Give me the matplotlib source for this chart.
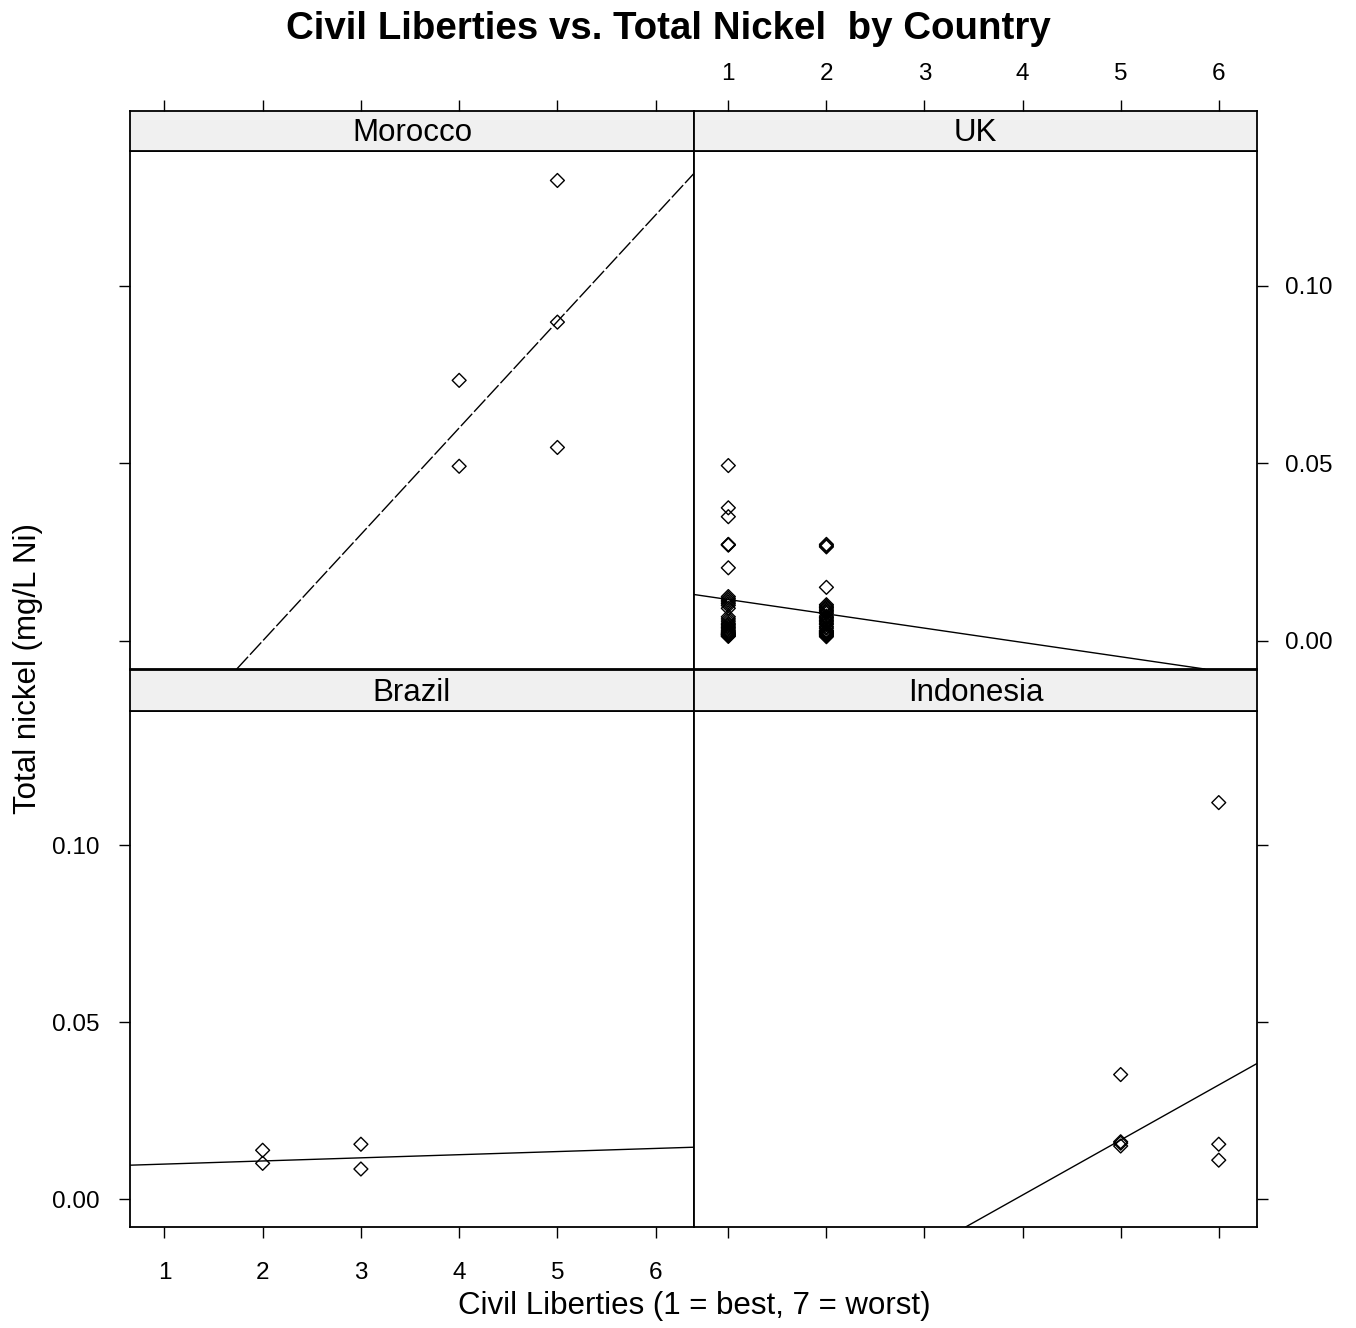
import numpy as np
import matplotlib
matplotlib.use("Agg")
import matplotlib.pyplot as plt

plt.rcParams['font.family'] = ['Liberation Sans', 'DejaVu Sans']

# values
countries = ["Morocco", "UK", "Brazil", "Indonesia"]

morocco_x = [4, 4, 5, 5, 5]
morocco_y = [0.0734, 0.0492, 0.1297, 0.0898, 0.0545]

uk_x = [1] * 32 + [2] * 29
uk_y = [0.0494, 0.0375, 0.0350, 0.0271, 0.0272, 0.0270, 0.0206,
        0.0125, 0.0120, 0.0115, 0.0110, 0.0105, 0.0100, 0.0092, 0.0068,
        0.0062, 0.0056, 0.0050, 0.0046, 0.0042, 0.0038, 0.0034, 0.0030,
        0.0027, 0.0024, 0.0022, 0.0020, 0.0018, 0.0016, 0.0014, 0.0013, 0.0019,
        0.0272, 0.0268, 0.0265, 0.0151,
        0.0102, 0.0098, 0.0094, 0.0090, 0.0086, 0.0082, 0.0078, 0.0070,
        0.0066, 0.0062, 0.0058, 0.0054, 0.0050, 0.0046, 0.0040, 0.0036,
        0.0030, 0.0026, 0.0015, 0.0022, 0.0020, 0.0018, 0.0012, 0.0024, 0.0028]

brazil_x = [2, 2, 3, 3]
brazil_y = [0.0138, 0.0101, 0.0155, 0.0085]

indonesia_x = [5, 5, 5, 5, 6, 6, 6]
indonesia_y = [0.0352, 0.0162, 0.0158, 0.0150, 0.1121, 0.0155, 0.0110]

# fitted lines as drawn (intercept, slope)
line_intercept = [-0.0600, 0.0157, 0.0090, -0.0611]
line_slope = [0.0300, -0.00403, 0.000886, 0.01556]

xticks = [1, 2, 3, 4, 5, 6]
yticks = [0.00, 0.05, 0.10]
ytick_labels = ["0.00", "0.05", "0.10"]

W, H = 1356, 1328
fig = plt.figure(figsize=(W / 100, H / 100), dpi=100)


def rect(x0, y0, x1, y1):
    return [x0 / W, 1 - y1 / H, (x1 - x0) / W, (y1 - y0) / H]


xs = [morocco_x, uk_x, brazil_x, indonesia_x]
ys = [morocco_y, uk_y, brazil_y, indonesia_y]

# panel boxes in pixels: (plot box, strip box)
cols = [(130, 694), (694, 1257)]
rows = [((151, 669), (111, 151)), ((711, 1227), (670, 711))]

xlim = (0.65, 6.39)
ylim = (-0.0079, 0.138)
tick_len = 8
fs = 17.5
lab_fs = 22.5

for i in range(4):
    r, c = divmod(i, 2)
    (py0, py1), (sy0, sy1) = rows[r]
    x0, x1 = cols[c]
    ax = fig.add_axes(rect(x0, py0, x1, py1))
    st = fig.add_axes(rect(x0, sy0, x1, sy1), sharex=ax)

    ax.scatter(xs[i], ys[i], marker="D", s=50, facecolors="none",
               edgecolors="black", linewidths=1.0, zorder=3)
    ls = (0, (12, 2)) if i == 0 else "-"
    ax.axline((0, line_intercept[i]), slope=line_slope[i], color="black",
              lw=1.0, linestyle=ls)

    ax.set_xlim(*xlim)
    ax.set_ylim(*ylim)
    ax.set_xticks(xticks)
    ax.set_yticks(yticks)
    ax.set_yticklabels(ytick_labels)
    for sp in ax.spines.values():
        sp.set_linewidth(1.3)
    ax.tick_params(direction="out", length=tick_len, width=1.0, labelsize=fs,
                   colors="black")

    # strip
    st.set_facecolor("#f0f0f0")
    st.set_ylim(0, 1)
    st.set_yticks([])
    for sp in st.spines.values():
        sp.set_linewidth(1.3)
    st.text(0.5, 0.45, countries[i], transform=st.transAxes, ha="center",
            va="center", fontsize=lab_fs)

    if r == 0:
        # top row: x ticks on top of strip, none on bottom
        ax.tick_params(axis="x", bottom=False, labelbottom=False)
        st.tick_params(axis="x", top=True, bottom=False, labelbottom=False,
                       labeltop=(c == 1), direction="out", length=tick_len,
                       width=1.0, labelsize=fs, pad=11)
    else:
        st.tick_params(axis="x", top=False, bottom=False, labelbottom=False,
                       labeltop=False)
        ax.tick_params(axis="x", bottom=True, labelbottom=(c == 0), pad=17)

    if c == 0:
        ax.tick_params(axis="y", left=True, right=False, labelleft=(r == 1),
                       pad=14)
    else:
        ax.tick_params(axis="y", left=False, right=True, labelleft=False,
                       labelright=(r == 0), pad=12)

fig.text(668 / W, 1 - 29 / H, "Civil Liberties vs. Total Nickel  by Country",
         ha="center", va="center", fontsize=27.7, fontweight="bold")
fig.text(694 / W, 1 - 1306 / H, "Civil Liberties (1 = best, 7 = worst)",
         ha="center", va="center", fontsize=lab_fs)
fig.text(28 / W, 1 - 668 / H, "Total nickel (mg/L Ni)", ha="center",
         va="center", rotation=90, fontsize=lab_fs)

fig.savefig("out.png", dpi=100)
